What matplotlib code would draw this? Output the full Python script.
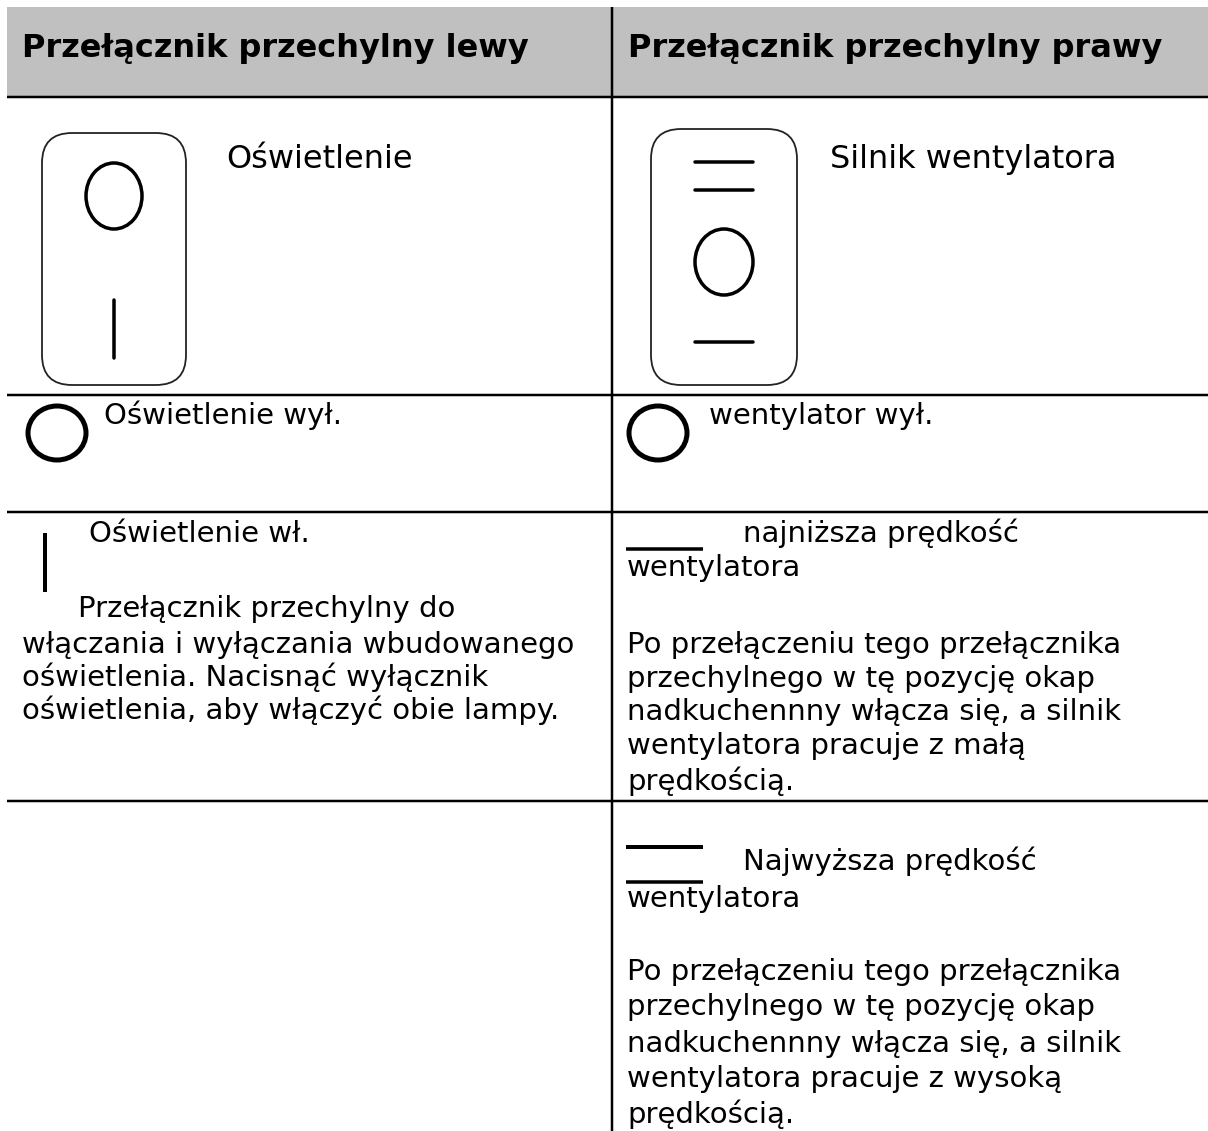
"""
Tilt switch table (left / right), drawn in pixel coordinates.
"""

import matplotlib
matplotlib.use("Agg")
import matplotlib.pyplot as plt
from matplotlib.patches import Ellipse, FancyBboxPatch, Rectangle

# ------------------------------ Text ------------------------------

HEADERS = ["Przełącznik przechylny lewy", "Przełącznik przechylny prawy"]
SWITCH_NAMES = ["Oświetlenie", "Silnik wentylatora"]
OFF_LABELS = ["Oświetlenie wył.", "wentylator wył."]

LIGHT_ON = "Oświetlenie wł."
LIGHT_TEXT = [
    "Przełącznik przechylny do",
    "włączania i wyłączania wbudowanego",
    "oświetlenia. Nacisnąć wyłącznik",
    "oświetlenia, aby włączyć obie lampy.",
]

LOW_TITLE = ["najniższa prędkość", "wentylatora"]
LOW_TEXT = [
    "Po przełączeniu tego przełącznika",
    "przechylnego w tę pozycję okap",
    "nadkuchennny włącza się, a silnik",
    "wentylatora pracuje z małą",
    "prędkością.",
]

HIGH_TITLE = ["Najwyższa prędkość", "wentylatora"]
HIGH_TEXT = [
    "Po przełączeniu tego przełącznika",
    "przechylnego w tę pozycję okap",
    "nadkuchennny włącza się, a silnik",
    "wentylatora pracuje z wysoką",
    "prędkością.",
]

# ------------------------------ Styling ------------------------------

W, H = 1208, 1131
FS = 21
FS_TOP = 23
GREY = "#c0c0c0"
LW = 2.5 * 0.72  # px -> pt at dpi 100

fig = plt.figure(figsize=(W / 100, H / 100), dpi=100)
ax = fig.add_axes([0, 0, 1, 1])
ax.set_xlim(0, W)
ax.set_ylim(H, 0)
ax.set_axis_off()


def put(x, y, s, **kw):
    ax.text(x, y, s, fontsize=kw.pop("fontsize", FS), va="baseline", ha="left", color="black", **kw)


def seg(x0, y0, x1, y1, px=3.5, cap="butt"):
    ax.plot([x0, x1], [y0, y1], color="black", lw=px * 0.72, solid_capstyle=cap)


def oval(cx, cy, rx, ry, px=3.5):
    ax.add_patch(Ellipse((cx, cy), 2 * rx, 2 * ry, fill=False, ec="black", lw=px * 0.72))


def rocker(x0, y0, x1, y1, r=30):
    ax.add_patch(FancyBboxPatch(
        (x0 + r, y0 + r), x1 - x0 - 2 * r, y1 - y0 - 2 * r,
        boxstyle=f"round,pad={r},rounding_size={r}",
        fill=False, ec="#222222", lw=1.8 * 0.72,
    ))


# ------------------------------ Table ------------------------------

ax.add_patch(Rectangle((7, 7), W - 7, 89, fc=GREY, ec="none"))

for y in [96.5, 394.5, 512, 801]:
    ax.plot([7, W], [y, y], color="black", lw=LW, solid_capstyle="butt")
ax.plot([611.5, 611.5], [7, H], color="black", lw=LW, solid_capstyle="butt")

# ------------------------------ Header and symbols ------------------------------

put(22, 57, HEADERS[0], fontweight="bold", fontsize=FS_TOP)
put(628, 57, HEADERS[1], fontweight="bold", fontsize=FS_TOP)

put(226, 168, SWITCH_NAMES[0], fontsize=FS_TOP)
put(830, 168, SWITCH_NAMES[1], fontsize=FS_TOP)

rocker(42, 133, 186, 385)
oval(114, 196, 28, 33)
seg(114, 300, 114, 358, cap="round")

rocker(651, 129, 797, 385)
seg(695, 162, 753, 162, cap="round")
seg(695, 190, 753, 190, cap="round")
oval(724, 262, 29, 33)
seg(695, 342, 753, 342, cap="round")

# ------------------------------ Off row ------------------------------

oval(57, 433, 29, 27, px=5.0)
oval(658, 433, 29, 27, px=5.0)
put(104, 424, OFF_LABELS[0])
put(709, 424, OFF_LABELS[1])

# ------------------------------ On / low speed row ------------------------------

seg(45, 533, 45, 592, px=4.0)
put(89, 542, LIGHT_ON)
put(78, 617, LIGHT_TEXT[0])
for y, line in zip([653, 686, 719], LIGHT_TEXT[1:]):
    put(22, y, line)

seg(626, 549, 703, 549, px=3.5)
put(743, 542, LOW_TITLE[0])
put(627, 576, LOW_TITLE[1])
for y, line in zip([653, 687, 720, 754, 790], LOW_TEXT):
    put(627, y, line)

# ------------------------------ High speed row ------------------------------

seg(626, 847, 703, 847, px=4.0)
seg(626, 882, 703, 882, px=3.5)
put(743, 870, HIGH_TITLE[0])
put(627, 907, HIGH_TITLE[1])
for y, line in zip([980, 1015, 1052, 1087, 1123], HIGH_TEXT):
    put(627, y, line)

fig.savefig("out.png", dpi=100)
